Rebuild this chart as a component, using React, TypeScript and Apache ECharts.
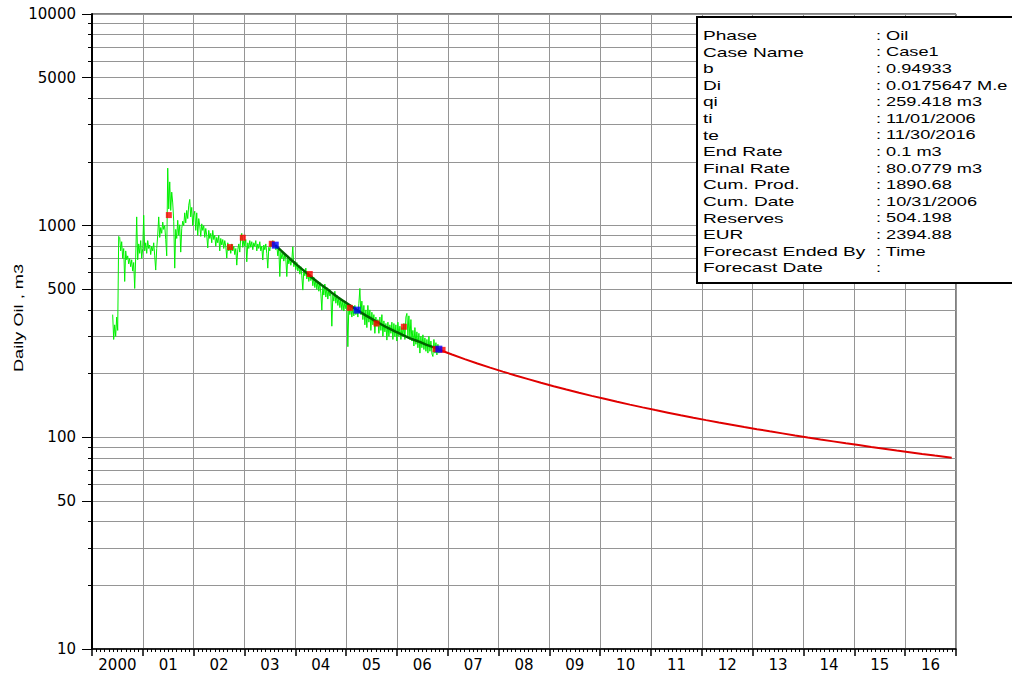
import React, { useEffect, useRef } from 'react';
import * as echarts from 'echarts';

// ---------- axis labels ----------
const YEAR_LABELS = ['2000', '01', '02', '03', '04', '05', '06', '07', '08', '09', '10', '11', '12', '13', '14', '15', '16'];
const Y_LABEL_VALUES = [10, 50, 100, 500, 1000, 5000, 10000];
const Y_GRID_VALUES = [
  10, 20, 30, 40, 50, 60, 70, 80, 90,
  100, 200, 300, 400, 500, 600, 700, 800, 900,
  1000, 2000, 3000, 4000, 5000, 6000, 7000, 8000, 9000, 10000,
];

// ---------- measured daily oil (green), sampled roughly weekly ----------
const GREEN_START = 2000.407; // decimal year of first sample
const GREEN_STEP = 0.01969; // years between samples
const GREEN_RATES = [
  380, 290, 340, 300, 370, 320,
  890, 880, 760, 840, 700, 780, 545, 760, 690, 720, 660, 700, 640, 690, 610, 670, 505, 710, 1100, 690, 820, 740, 850, 700, 780,
  1120, 760, 830, 740, 850, 780, 810, 730, 800, 760, 830, 720, 617, 780,
  900, 1100, 880, 980, 920, 1040, 960, 1000, 860, 720,
  1870, 1200, 1610, 1180, 1440, 1280, 1050, 630, 960, 870, 1060, 900, 1010, 750, 970, 1050, 1000, 1150, 1030, 1180, 1080, 1250, 1330, 1100, 1220, 1000,
  1120, 1170, 950, 1150, 900, 1080, 1000, 890, 1020, 950, 1000, 880, 970, 900, 785, 950, 870, 920, 830, 950, 860, 900, 800, 880, 830, 900, 760,
  870, 810, 860, 780, 850, 800, 703, 830, 760, 800, 740, 820, 760, 800, 730, 780, 651, 770, 820, 750, 880, 920, 790, 850, 800, 860, 675, 830, 780, 850,
  790, 840, 770, 830, 800, 850, 760, 820, 780, 840, 760, 800, 688, 810, 770, 820, 740, 630, 790, 760, 840, 800, 850, 790, 830, 770, 800, 720, 790, 575,
  750, 700, 740, 680, 730, 700, 575, 720, 660, 700, 650, 690, 795, 640, 680, 620, 670, 610, 650, 590, 640, 580, 496, 620, 580, 630, 560, 600, 545, 590,
  550, 580, 520, 570, 510, 555, 500, 545, 490, 540, 480, 399, 520, 470, 530, 460, 510, 450, 500, 465, 480, 335, 470, 440, 490, 430, 470, 420, 460, 410,
  450, 400, 445, 395, 440, 405, 430, 268, 420, 380, 415, 370, 410, 375, 420, 380, 400, 370, 430, 505, 380, 440, 360, 420, 340, 400, 330, 420, 350, 400,
  320, 390, 340, 380, 310, 370, 335, 360, 310, 370, 320, 380, 300, 355, 315, 345, 288, 350, 300, 340, 310, 350, 290, 345, 300, 340, 285, 350, 300, 335,
  290, 330, 300, 345, 290, 370, 385, 300, 375, 290, 360, 285, 320, 270, 330, 275, 315, 265, 310, 250, 300, 265, 305, 260, 295, 255, 290, 250, 300, 255,
  285, 248, 241, 290, 250, 280, 245, 275, 250, 265,
];

// ---------- decline fit over history (dark green) ----------
const FIT_DATES = [2003.606, 2003.813, 2004.010, 2004.207, 2004.413, 2004.620, 2004.817, 2005.014, 2005.217, 2005.427, 2005.624, 2005.821, 2006.018, 2006.224, 2006.431, 2006.628, 2006.825];
const FIT_RATES = [809, 727, 660, 602, 548, 503, 463, 430, 399, 372, 349, 329, 312, 296, 283, 271, 261];

// ---------- forecast (red) ----------
const FORECAST_START = 2006.833; // 11/01/2006
const FORECAST_MONTHS = [0, 3, 6, 9, 12, 15, 18, 21, 24, 27, 30, 33, 36, 39, 42, 45, 48, 51, 54, 57, 60, 63, 66, 69, 72, 75, 78, 81, 84, 87, 90, 93, 96, 99, 102, 105, 108, 111, 114, 117, 121];
const FORECAST_RATES = [259.4, 246.2, 234.2, 223.4, 213.4, 204.4, 195.9, 188.3, 181.0, 174.4, 168.2, 162.4, 157.0, 152.0, 147.2, 142.7, 138.5, 134.5, 130.8, 127.2, 123.8, 120.6, 117.6, 114.7, 111.9, 109.3, 106.8, 104.4, 102.0, 99.8, 97.7, 95.7, 93.7, 91.9, 90.1, 88.4, 86.7, 85.1, 83.5, 82.0, 80.1];

// ---------- selected points ----------
const RED_DATES = [2001.512, 2002.717, 2002.967, 2003.537, 2004.285, 2005.073, 2005.598, 2006.136, 2006.760, 2006.898];
const RED_RATES = [1122, 792, 877, 821, 591, 409, 345, 333, 261, 259];
const BLUE_DATES = [2003.606, 2005.217, 2006.825];
const BLUE_RATES = [809, 399, 261];

// ---------- info box ----------
const INFO_LABELS = ['Phase', 'Case Name', 'b', 'Di', 'qi', 'ti', 'te', 'End Rate', 'Final Rate', 'Cum. Prod.', 'Cum. Date', 'Reserves', 'EUR', 'Forecast Ended By', 'Forecast Date'];
const INFO_VALUES = [': Oil', ': Case1', ': 0.94933', ': 0.0175647 M.e', ': 259.418 m3', ': 11/01/2006', ': 11/30/2016', ': 0.1 m3', ': 80.0779 m3', ': 1890.68', ': 10/31/2006', ': 504.198', ': 2394.88', ': Time', ':'];

const TEXT_FONT = 'Liberation Sans, Arial, sans-serif';
const AXIS_FONT = 'DejaVu Sans, sans-serif';

export default function App() {
  const ref = useRef<HTMLDivElement>(null);

  useEffect(() => {
    if (!ref.current) return;
    const chart = echarts.init(ref.current, null, { renderer: 'svg' });

    const greenData = GREEN_RATES.map((v, i) => [GREEN_START + i * GREEN_STEP, v]);
    const fitData = FIT_RATES.map((v, i) => [FIT_DATES[i], v]);
    const forecastData = FORECAST_RATES.map((v, i) => [FORECAST_START + FORECAST_MONTHS[i] / 12, v]);
    const redData = RED_RATES.map((v, i) => [RED_DATES[i], v]);
    const blueData = BLUE_RATES.map((v, i) => [BLUE_DATES[i], v]);

    const infoTexts: any[] = [];
    INFO_LABELS.forEach((t, i) => {
      infoTexts.push({
        type: 'text', z: 101, x: 703, y: 35.3 + i * 16.6, scaleX: 1.47,
        style: { text: t, fontSize: 13, fontFamily: TEXT_FONT, fill: '#000', align: 'left', verticalAlign: 'middle' },
      });
    });
    INFO_VALUES.forEach((t, i) => {
      infoTexts.push({
        type: 'text', z: 101, x: 876, y: 35.3 + i * 16.6, scaleX: 1.4,
        style: { text: t, fontSize: 13, fontFamily: TEXT_FONT, fill: '#000', align: 'left', verticalAlign: 'middle' },
      });
    });

    const option: any = {
      animation: false,
      backgroundColor: '#fff',
      grid: { left: 92, top: 14, right: 56, bottom: 25, show: true, borderColor: '#000', borderWidth: 1 },
      xAxis: [
        {
          type: 'category', data: YEAR_LABELS, boundaryGap: true, position: 'bottom',
          axisLine: { show: true, lineStyle: { color: '#000', width: 1.5 } },
          axisTick: { show: true, interval: 0, length: 7, lineStyle: { color: '#000', width: 1.5 } },
          axisLabel: { interval: 0, color: '#000', fontFamily: AXIS_FONT, fontSize: 15, margin: 8 },
          splitLine: { show: true, interval: 0, lineStyle: { color: '#959595', width: 1 } },
        },
        {
          type: 'value', min: 2000, max: 2017, interval: 1, position: 'bottom',
          axisLine: { show: false }, axisTick: { show: false }, axisLabel: { show: false },
          splitLine: { show: false },
          minorTick: { show: true, splitNumber: 12, length: 3, lineStyle: { color: '#000', width: 1 } },
        },
      ],
      yAxis: [
        {
          type: 'log', logBase: 10, min: 10, max: 10000,
          axisLine: { show: true, lineStyle: { color: '#000', width: 2 } },
          axisTick: { show: true, length: 4, customValues: Y_GRID_VALUES, lineStyle: { color: '#000' } },
          axisLabel: { show: false },
          splitLine: { show: true, lineStyle: { color: '#959595', width: 1 } },
        },
        {
          type: 'log', logBase: 10, min: 10, max: 10000, position: 'left',
          axisLine: { show: false },
          axisTick: { show: true, length: 10, customValues: Y_LABEL_VALUES, lineStyle: { color: '#000' } },
          axisLabel: {
            customValues: Y_LABEL_VALUES, color: '#000', fontFamily: AXIS_FONT, fontSize: 15, margin: 16,
            formatter: (v: number) => String(Math.round(v)),
          },
          splitLine: { show: false },
        },
      ],
      series: [
        {
          name: 'Oil', type: 'line', xAxisIndex: 1, yAxisIndex: 0, data: greenData,
          showSymbol: false, lineStyle: { color: '#00f000', width: 1 }, z: 2,
        },
        {
          name: 'Fit', type: 'line', xAxisIndex: 1, yAxisIndex: 0, data: fitData, smooth: true,
          showSymbol: false, lineStyle: { color: '#006400', width: 2.5 }, z: 3,
        },
        {
          name: 'Forecast', type: 'line', xAxisIndex: 1, yAxisIndex: 0, data: forecastData,
          showSymbol: false,
          itemStyle: { color: '#e00000' }, lineStyle: { color: '#e00000', width: 2 }, z: 3,
        },
        {
          name: 'Selected', type: 'scatter', xAxisIndex: 1, yAxisIndex: 0, data: redData,
          symbol: 'rect', symbolSize: 6, itemStyle: { color: '#ff0000' }, z: 4,
        },
        {
          name: 'Anchor', type: 'scatter', xAxisIndex: 1, yAxisIndex: 0, data: blueData,
          symbol: 'rect', symbolSize: 7, itemStyle: { color: '#0000ff' }, z: 5,
        },
      ],
      graphic: [
        {
          type: 'text', x: 18, y: 318, rotation: Math.PI / 2, scaleX: 1.4,
          style: { text: 'Daily Oil , m3', fontSize: 13, fontFamily: TEXT_FONT, fill: '#000', align: 'center', verticalAlign: 'middle' },
        },
        {
          type: 'rect', z: 100, shape: { x: 697, y: 17, width: 330, height: 266 },
          style: { fill: '#fff', stroke: '#000', lineWidth: 2 },
        },
        ...infoTexts,
      ],
    };

    chart.setOption(option);
    return () => chart.dispose();
  }, []);

  return (
    <div
      ref={ref}
      style={{ position: 'fixed', left: 0, top: 0, width: 1012, height: 674, background: '#fff' }}
    />
  );
}
